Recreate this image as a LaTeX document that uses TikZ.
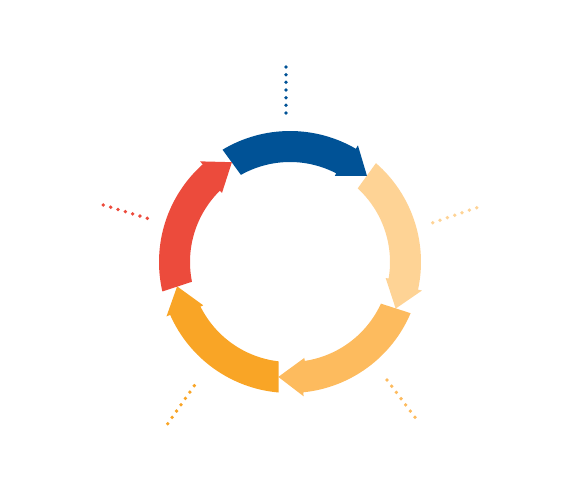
\documentclass[tikz,border=0pt]{standalone}
\usetikzlibrary{calc}
\definecolor{cblue}{HTML}{005296}
\definecolor{cred}{HTML}{EC4B3C}
\definecolor{cpale}{HTML}{FED395}
\definecolor{clight}{HTML}{FDBB5E}
\definecolor{corange}{HTML}{F9A526}
\tikzset{dotmark/.style={fill, draw=none}}
\newcommand\cycarrow[3]{%
  \pgfmathsetmacro\ta{#2}%
  \pgfmathsetmacro\tb{#3}%
  \pgfmathsetmacro\bo{\tb+11.6}%
  \pgfmathsetmacro\bi{\tb+14.3}%
  \pgfmathsetmacro\ti{\ta-1.6}%
  \fill[#1] (\ta:131pt) arc[start angle=\ta, end angle=\bo, radius=131pt]
    -- (\bo:135pt) -- (\tb:115.5pt) -- (\bi:97pt) -- (\bi:100pt)
    arc[start angle=\bi, end angle=\ti, radius=100pt] -- cycle;
}
\newcommand\dotrow[3]{%
  \foreach \k in {0,...,6} {
    \fill[#1] ($(#2)!\k/6!(#3)$) circle[radius=1.9pt];
  }
}
\begin{document}
\begin{tikzpicture}[x=1pt,y=1pt]
\useasboundingbox (0,0) rectangle (576,-500);
\begin{scope}[shift={(290pt,-262pt)}]
  \cycarrow{cblue}{121}{48.2}
  \cycarrow{cpale}{49}{-23.8}
  \cycarrow{clight}{-23}{-95.8}
  \cycarrow{corange}{-95}{-167.8}
  \cycarrow{cred}{-167}{-239.8}
\end{scope}
\coordinate (b1) at (286,-67);    \coordinate (b2) at (286,-113);
\coordinate (r1) at (103.3,-205); \coordinate (r2) at (147.3,-218.3);
\coordinate (p1) at (432.7,-222.7); \coordinate (p2) at (476.7,-207.7);
\coordinate (o1) at (194.3,-385.7); \coordinate (o2) at (167.7,-423.7);
\coordinate (l1) at (387,-380);   \coordinate (l2) at (415,-417.3);
\dotrow{cblue}{b1}{b2}
\dotrow{cred}{r1}{r2}
\dotrow{cpale}{p1}{p2}
\dotrow{corange}{o1}{o2}
\dotrow{clight}{l1}{l2}
\end{tikzpicture}
\end{document}
